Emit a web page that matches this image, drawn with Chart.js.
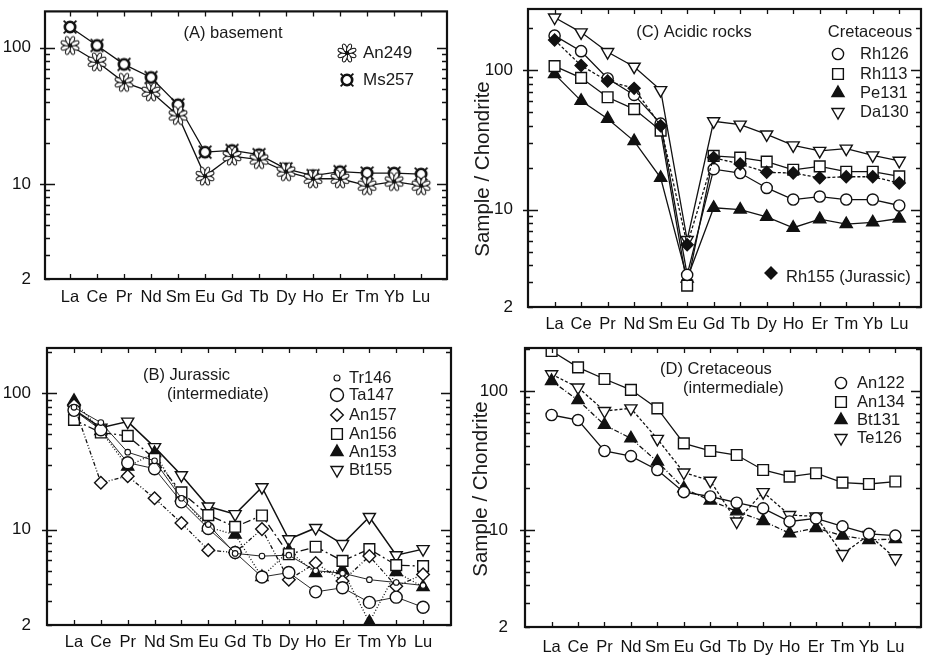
<!DOCTYPE html>
<html>
<head>
<meta charset="utf-8">
<script src="https://cdn.jsdelivr.net/npm/chart.js@4.4.1/dist/chart.umd.min.js"></script>
<style>
  html, body { margin: 0; padding: 0; background: #fff; width: 926px; height: 655px; overflow: hidden; }
  canvas { position: absolute; }
</style>
</head>
<body>
<canvas id="chartA" width="465" height="310" style="left:0;top:0"></canvas>
<canvas id="chartC" width="465" height="335" style="left:465px;top:0"></canvas>
<canvas id="chartB" width="465" height="325" style="left:0;top:330px"></canvas>
<canvas id="chartD" width="465" height="325" style="left:465px;top:330px"></canvas>
<script>
const REE = ['La', 'Ce', 'Pr', 'Nd', 'Sm', 'Eu', 'Gd', 'Tb', 'Dy', 'Ho', 'Er', 'Tm', 'Yb', 'Lu'];
const Y_LABELS = [2, 10, 100];

// (A) basement
const An249 = [104, 78.9, 55.7, 47.5, 31.8, 11.4, 16.0, 15.1, 12.3, 10.9, 10.9, 9.7, 10.4, 9.7];
const Ms257 = [142, 104, 75.5, 60.5, 38.1, 17.1, 17.6, 16.4, 12.9, 11.5, 12.3, 12.0, 12.0, 11.8];

// (C) acidic rocks
const Rh126 = [177, 137, 87.3, 66.5, 41.4, 3.4, 19.5, 18.3, 14.3, 11.8, 12.4, 11.8, 11.8, 10.7];
const Rh113 = [107, 88.2, 64, 52.6, 36.9, 2.85, 24.3, 23.6, 22.1, 19.3, 20.4, 18.7, 18.7, 17.3];
const Pe131 = [93.7, 60.3, 44.9, 31, 16.9, 3.2, 10.3, 10.0, 8.87, 7.41, 8.53, 7.87, 8.09, 8.63];
const Da130 = [239, 187, 135, 106, 72, 6.05, 43, 40.7, 34.6, 28.9, 26.4, 27.4, 24.5, 22.4];
const Rh155 = [165, 108, 83.6, 74.1, 40, 5.6, 23.6, 21.2, 18.5, 18.3, 16.9, 17.2, 17.2, 15.5];

// (B) jurassic intermediate
const Tr146 = [79, 61, 37, 32, 17, 10.9, 6.7, 6.4, 6.5, 5.0, 4.8, 4.3, 4.1, 3.9];
const Ta147 = [75, 54, 31, 28, 16, 10.2, 6.8, 4.5, 4.85, 3.5, 3.75, 2.93, 3.2, 2.7];
const An157 = [81.7, 22.1, 24.7, 17, 11.2, 7.08, 6.8, 10.1, 4.3, 5.7, 4.2, 6.4, 3.85, 4.7];
const An156 = [63.8, 51.6, 48.7, 33.1, 18.8, 12.8, 10.5, 12.7, 6.6, 7.5, 5.9, 7.2, 5.5, 5.4];
const An153 = [88, 53, 29, 36.5, 17.3, 10.4, 9.2, 4.5, 7.0, 4.8, 5.05, 2.1, 4.9, 3.8];
const Bt155 = [75.9, 56, 62, 40.3, 25.1, 14.8, 13.0, 20.5, 8.5, 10.3, 7.85, 12.4, 6.5, 7.2];

// (D) cretaceous intermediate
const An122 = [67.2, 61.8, 37, 34, 27, 18.7, 17.4, 15.7, 14.3, 11.5, 12.1, 10.6, 9.36, 9.1];
const An134 = [194, 148, 122, 102, 75, 42, 37, 34.6, 27, 24.2, 25.6, 21.9, 21.4, 22.3];
const Bt131 = [118, 86, 57, 45.6, 31, 19.9, 16.3, 13.6, 11.6, 9.46, 10.3, 9.1, 8.47, 8.6];
const Te126 = [132, 106, 71.8, 75, 45.2, 25.9, 22.6, 11.5, 18.7, 12.8, 12.5, 6.7, 9.2, 6.25];

const INK = '#111';
const FONT = '"Liberation Sans", Arial, Helvetica, sans-serif';

// custom markers
function flowerMark() {
  const c = document.createElement('canvas');
  c.width = c.height = 22;
  const g = c.getContext('2d');
  g.translate(11, 11);
  g.strokeStyle = INK;
  g.fillStyle = '#fff';
  g.lineWidth = 1;
  for (let k = 0; k < 8; k++) {
    g.save();
    g.rotate(k * Math.PI / 4 + Math.PI / 8);
    g.beginPath();
    g.ellipse(5.4, 0, 4.2, 2, 0, 0, 2 * Math.PI);
    g.fill();
    g.stroke();
    g.restore();
  }
  g.fillStyle = INK;
  g.beginPath();
  g.arc(0, 0, 2.2, 0, 2 * Math.PI);
  g.fill();
  return c;
}

function ringMark() {
  const c = document.createElement('canvas');
  c.width = c.height = 20;
  const g = c.getContext('2d');
  g.translate(10, 10);
  g.strokeStyle = INK;
  g.lineWidth = 1.8;
  for (let k = 0; k < 4; k++) {
    const a = Math.PI / 4 + k * Math.PI / 2;
    g.beginPath();
    g.moveTo(Math.cos(a) * 5, Math.sin(a) * 5);
    g.lineTo(Math.cos(a) * 9, Math.sin(a) * 9);
    g.stroke();
  }
  g.fillStyle = '#fff';
  g.lineWidth = 2.6;
  g.beginPath();
  g.arc(0, 0, 5.2, 0, 2 * Math.PI);
  g.fill();
  g.stroke();
  return c;
}

const FLOWER = flowerMark();
const RING = ringMark();

const MARK = {
  circle: { pointStyle: 'circle', pointRadius: 5.6, pointBackgroundColor: '#fff' },
  smallCircle: { pointStyle: 'circle', pointRadius: 2.8, pointBackgroundColor: '#fff' },
  square: { pointStyle: 'rect', pointRadius: 7.6, pointBackgroundColor: '#fff' },
  triUp: { pointStyle: 'triangle', pointRadius: 7, pointBackgroundColor: INK },
  triDown: { pointStyle: 'triangle', pointRadius: 7, pointRotation: 180, pointBackgroundColor: '#fff' },
  diamond: { pointStyle: 'rectRot', pointRadius: 6, pointBackgroundColor: INK },
  openDiamond: { pointStyle: 'rectRot', pointRadius: 6.3, pointBackgroundColor: '#fff' },
  flower: { pointStyle: FLOWER, pointRadius: 10, pointBackgroundColor: '#fff' },
  ring: { pointStyle: RING, pointRadius: 9, pointBackgroundColor: '#fff' }
};

function series(label, values, mark, extra) {
  return Object.assign({
    label: label,
    data: values.map((v, i) => ({ x: i, y: v })),
    borderColor: INK,
    borderWidth: 1.3,
    pointBorderColor: INK,
    pointBorderWidth: 1.4,
    tension: 0,
    fill: false
  }, MARK[mark], extra || {});
}

// frame with inward ticks, titles and hand placed legend
const framePlugin = {
  id: 'frame',
  afterDraw(chart, args, opts) {
    const ctx = chart.ctx;
    const a = chart.chartArea;
    const y = chart.scales.y;
    const x = chart.scales.x;
    ctx.save();
    ctx.strokeStyle = INK;
    ctx.lineWidth = 1.3;
    const minor = [];
    for (let d = 1; d <= 100; d *= 10) {
      for (let m = 1; m < 10; m++) minor.push(m * d);
    }
    ctx.beginPath();
    minor.forEach(v => {
      if (v < y.min || v > y.max) return;
      const py = Math.round(y.getPixelForValue(v)) + 0.5;
      const major = v === 10 || v === 100;
      const len = major ? 10 : 5;
      ctx.moveTo(a.left, py); ctx.lineTo(a.left + len, py);
      ctx.moveTo(a.right, py); ctx.lineTo(a.right - len, py);
      if (major) { ctx.moveTo(a.left - 5, py); ctx.lineTo(a.left, py); }
    });
    REE.forEach((r, i) => {
      const px = Math.round(x.getPixelForValue(i)) + 0.5;
      ctx.moveTo(px, a.top); ctx.lineTo(px, a.top + 5);
      ctx.moveTo(px, a.bottom); ctx.lineTo(px, a.bottom - 5);
    });
    ctx.stroke();
    ctx.lineWidth = 2.2;
    ctx.strokeRect(a.left, a.top, a.right - a.left, a.bottom - a.top);

    ctx.fillStyle = '#1a1a1a';
    ctx.textBaseline = 'middle';
    (opts.texts || []).forEach(t => {
      ctx.font = (t.size || 16.5) + 'px ' + FONT;
      ctx.textAlign = t.align || 'left';
      if (t.rotate) {
        ctx.save();
        ctx.translate(t.x, t.y);
        ctx.rotate(-Math.PI / 2);
        ctx.textAlign = 'center';
        ctx.fillText(t.text, 0, 0);
        ctx.restore();
      } else {
        ctx.fillText(t.text, t.x, t.y);
      }
    });
    const draw = Chart.helpers && Chart.helpers.drawPoint;
    (opts.legend || []).forEach(l => {
      const ds = chart.data.datasets[l.ds];
      ctx.fillStyle = ds.pointBackgroundColor;
      ctx.strokeStyle = INK;
      ctx.lineWidth = ds.pointBorderWidth;
      if (draw) {
        draw(ctx, {
          pointStyle: ds.pointStyle,
          radius: l.r || ds.pointRadius,
          rotation: ds.pointRotation || 0,
          borderWidth: ds.pointBorderWidth
        }, l.mx, l.y);
      }
      ctx.fillStyle = '#1a1a1a';
      ctx.font = (l.size || 16.5) + 'px ' + FONT;
      ctx.textAlign = 'left';
      ctx.fillText(l.text || ds.label, l.tx, l.ty || l.y);
    });
    ctx.restore();
  }
};

function makePanel(id, p) {
  const ctx = document.getElementById(id).getContext('2d');
  return new Chart(ctx, {
    type: 'line',
    data: { datasets: p.datasets },
    options: {
      responsive: false,
      animation: false,
      events: [],
      layout: { padding: { top: p.padTop, right: p.padRight, left: 0, bottom: 0 } },
      plugins: {
        legend: { display: false },
        tooltip: { enabled: false },
        frame: { texts: p.texts, legend: p.legend }
      },
      scales: {
        x: {
          type: 'linear',
          min: p.xMin,
          max: p.xMax,
          grid: { display: false },
          border: { display: false },
          afterBuildTicks: s => { s.ticks = REE.map((r, i) => ({ value: i })); },
          afterFit: s => { s.height = p.xHeight; s.paddingLeft = 0; s.paddingRight = 0; },
          ticks: {
            color: '#111',
            font: { family: FONT, size: 16.5 },
            padding: p.xPad,
            maxRotation: 0,
            autoSkip: false,
            callback: v => REE[v]
          }
        },
        y: {
          type: 'logarithmic',
          min: 2,
          max: p.yMax,
          grid: { display: false },
          border: { display: false },
          afterBuildTicks: s => { s.ticks = Y_LABELS.map(v => ({ value: v })); },
          afterFit: s => { s.width = p.yWidth; s.paddingTop = 0; s.paddingBottom = 0; },
          ticks: {
            color: '#111',
            font: { family: FONT, size: 17 },
            padding: p.yPad,
            callback: v => String(v)
          }
        }
      }
    },
    plugins: [framePlugin]
  });
}

makePanel('chartA', {
  padTop: 5, padRight: 18, yWidth: 45, xHeight: 31, xPad: 1, yPad: 6,
  xMin: -0.926, xMax: 13.96, yMax: 185,
  datasets: [
    series('An249', An249, 'flower'),
    series('Ms257', Ms257, 'ring')
  ],
  texts: [{ text: '(A) basement', x: 233, y: 33, align: 'center' }],
  legend: [
    { ds: 0, mx: 347, tx: 363, y: 53, text: 'An249', size: 17 },
    { ds: 1, mx: 347, tx: 363, y: 80, text: 'Ms257', size: 17 }
  ]
});

makePanel('chartC', {
  padTop: 8, padRight: 3, yWidth: 63, xHeight: 28, xPad: 0, yPad: 7,
  xMin: -1.003, xMax: 13.82, yMax: 275,
  datasets: [
    series('Rh155', Rh155, 'diamond', { borderDash: [3, 2] }),
    series('Rh126', Rh126, 'circle'),
    series('Rh113', Rh113, 'square'),
    series('Pe131', Pe131, 'triUp'),
    series('Da130', Da130, 'triDown')
  ],
  texts: [
    { text: '(C) Acidic rocks', x: 694 - 465, y: 32, align: 'center' },
    { text: 'Cretaceous', x: 870 - 465, y: 32, align: 'center' },
    { text: 'Sample / Chondrite', x: 483 - 465, y: 169, rotate: true, size: 20.5 }
  ],
  legend: [
    { ds: 1, mx: 838 - 465, tx: 860 - 465, y: 54 },
    { ds: 2, mx: 838 - 465, tx: 860 - 465, y: 74 },
    { ds: 3, mx: 838 - 465, tx: 860 - 465, y: 93 },
    { ds: 4, mx: 838 - 465, tx: 860 - 465, y: 112 },
    { ds: 0, mx: 771 - 465, tx: 786 - 465, y: 273, ty: 277, text: 'Rh155 (Jurassic)' }
  ]
});

makePanel('chartB', {
  padTop: 18, padRight: 14, yWidth: 47, xHeight: 30, xPad: 0, yPad: 8,
  xMin: -1.006, xMax: 14.04, yMax: 215,
  datasets: [
    series('Tr146', Tr146, 'smallCircle', { borderWidth: 0.9, pointBorderWidth: 1.1 }),
    series('Ta147', Ta147, 'circle', { borderWidth: 0.9, pointRadius: 6 }),
    series('An157', An157, 'openDiamond', { borderDash: [4, 2, 1, 2, 1, 2] }),
    series('An156', An156, 'square', { borderDash: [8, 3, 2, 3] }),
    series('An153', An153, 'triUp', { borderDash: [1, 2] }),
    series('Bt155', Bt155, 'triDown', { borderWidth: 1.5 })
  ],
  texts: [
    { text: '(B) Jurassic', x: 143, y: 375 - 330 },
    { text: '(intermediate)', x: 167, y: 394 - 330 }
  ],
  legend: [
    { ds: 0, mx: 337, tx: 349, y: 378 - 330, r: 3 },
    { ds: 1, mx: 337, tx: 349, y: 395 - 330, r: 6.5 },
    { ds: 2, mx: 337, tx: 349, y: 415 - 330 },
    { ds: 3, mx: 337, tx: 349, y: 434 - 330 },
    { ds: 4, mx: 337, tx: 349, y: 452 - 330 },
    { ds: 5, mx: 337, tx: 349, y: 470 - 330 }
  ]
});

makePanel('chartD', {
  padTop: 18, padRight: 3, yWidth: 60, xHeight: 28, xPad: 3, yPad: 9,
  xMin: -1.006, xMax: 13.97, yMax: 204,
  datasets: [
    series('An122', An122, 'circle'),
    series('An134', An134, 'square'),
    series('Bt131', Bt131, 'triUp', { borderDash: [5, 2, 1, 2] }),
    series('Te126', Te126, 'triDown', { borderDash: [3, 2] })
  ],
  texts: [
    { text: '(D) Cretaceous', x: 660 - 465, y: 369 - 330 },
    { text: '(intermediale)', x: 683 - 465, y: 388 - 330 },
    { text: 'Sample / Chondrite', x: 481 - 465, y: 489 - 330, rotate: true, size: 20.5 }
  ],
  legend: [
    { ds: 0, mx: 841 - 465, tx: 857 - 465, y: 383 - 330 },
    { ds: 1, mx: 841 - 465, tx: 857 - 465, y: 402 - 330 },
    { ds: 2, mx: 841 - 465, tx: 857 - 465, y: 420 - 330 },
    { ds: 3, mx: 841 - 465, tx: 857 - 465, y: 438 - 330 }
  ]
});
</script>
</body>
</html>
